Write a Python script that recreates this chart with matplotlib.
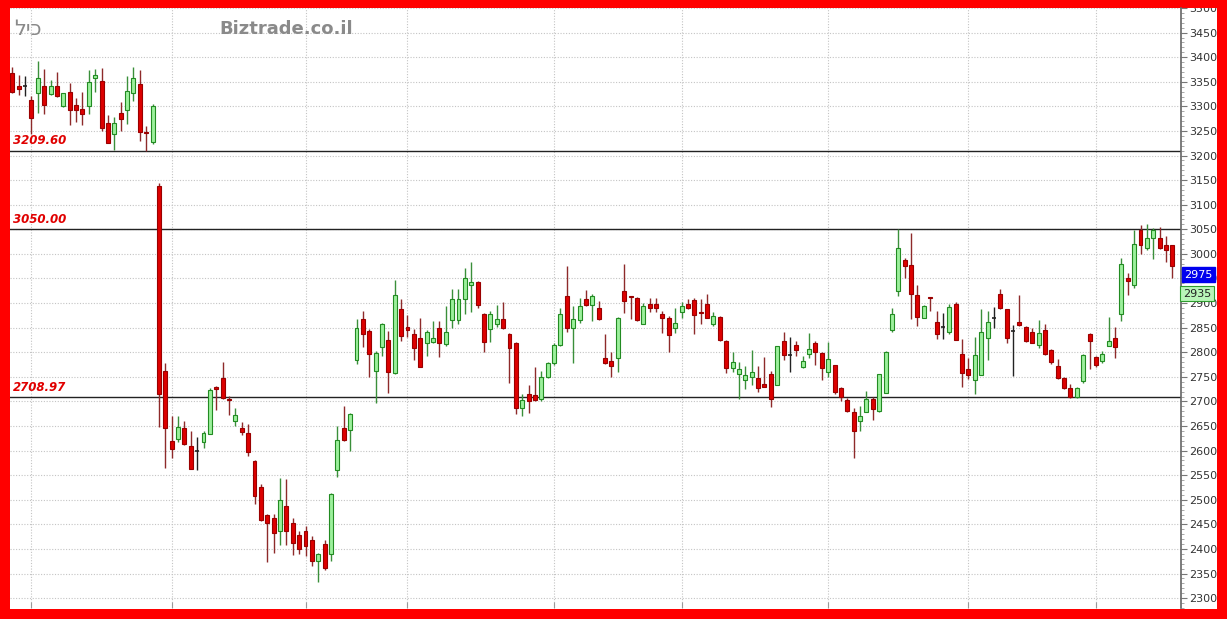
import numpy as np
import matplotlib
matplotlib.use('Agg')
import matplotlib.pyplot as plt
from matplotlib.patches import Rectangle
from matplotlib.ticker import MultipleLocator, NullFormatter

# ==========================================
# DATA
# ==========================================
opens = [3367, 3342, 3342, 3313, 3328, 3342, 3325, 3341, 3301, 3329,
         3303, 3295, 3301, 3358, 3351, 3266, 3243, 3287, 3293, 3328,
         3345, 3248, 3227, 3139, 2761, 2619, 2624, 2647, 2609, 2600,
         2617, 2633, 2729, 2748, 2704, 2660, 2647, 2636, 2579, 2527,
         2470, 2464, 2437, 2488, 2452, 2428, 2437, 2419, 2375, 2410,
         2389, 2560, 2647, 2642, 2784, 2867, 2843, 2761, 2811, 2824,
         2757, 2887, 2851, 2838, 2828, 2818, 2821, 2849, 2816, 2865,
         2865, 2909, 2937, 2943, 2877, 2847, 2858, 2867, 2838, 2818,
         2686, 2716, 2713, 2705, 2750, 2779, 2815, 2914, 2849, 2865,
         2909, 2897, 2889, 2789, 2782, 2788, 2925, 2914, 2911, 2858,
         2899, 2899, 2877, 2870, 2849, 2881, 2899, 2906, 2882, 2899,
         2857, 2872, 2823, 2769, 2755, 2743, 2750, 2748, 2736, 2755,
         2734, 2822, 2795, 2814, 2770, 2797, 2818, 2799, 2760, 2774,
         2728, 2702, 2678, 2661, 2679, 2705, 2680, 2717, 2845, 2925,
         2987, 2977, 2917, 2870, 2912, 2862, 2852, 2842, 2898, 2797,
         2766, 2743, 2754, 2828, 2870, 2918, 2887, 2843, 2862, 2852,
         2842, 2814, 2846, 2804, 2772, 2747, 2728, 2710, 2741, 2837,
         2791, 2783, 2813, 2830, 2878, 2952, 2937, 3048, 3013, 3033,
         3033, 3018, 3018]
highs = [3381, 3364, 3362, 3321, 3392, 3376, 3354, 3370, 3328, 3348,
         3318, 3330, 3373, 3376, 3377, 3282, 3279, 3308, 3362, 3381,
         3374, 3260, 3305, 3145, 2779, 2670, 2670, 2661, 2639, 2628,
         2639, 2727, 2732, 2780, 2711, 2686, 2659, 2655, 2581, 2533,
         2472, 2472, 2545, 2543, 2462, 2436, 2447, 2426, 2391, 2419,
         2514, 2651, 2690, 2677, 2867, 2884, 2847, 2803, 2860, 2843,
         2946, 2909, 2875, 2847, 2870, 2845, 2864, 2864, 2894, 2929,
         2928, 2971, 2984, 2944, 2879, 2884, 2897, 2903, 2840, 2820,
         2715, 2733, 2770, 2762, 2781, 2818, 2891, 2975, 2894, 2911,
         2926, 2919, 2904, 2837, 2801, 2871, 2980, 2915, 2913, 2901,
         2910, 2911, 2884, 2874, 2889, 2902, 2908, 2911, 2908, 2919,
         2881, 2874, 2824, 2801, 2781, 2772, 2805, 2773, 2791, 2761,
         2813, 2841, 2831, 2822, 2792, 2839, 2822, 2800, 2820, 2775,
         2730, 2707, 2687, 2690, 2721, 2709, 2756, 2803, 2890, 3050,
         2992, 3043, 2937, 2896, 2913, 2884, 2879, 2898, 2903, 2827,
         2789, 2831, 2887, 2884, 2892, 2929, 2888, 2856, 2917, 2853,
         2850, 2865, 2858, 2806, 2786, 2749, 2736, 2730, 2796, 2839,
         2793, 2803, 2871, 2852, 2992, 2961, 3048, 3059, 3060, 3052,
         3055, 3037, 3019]
lows = [3328, 3323, 3321, 3243, 3287, 3285, 3323, 3320, 3298, 3262,
        3269, 3262, 3284, 3330, 3250, 3225, 3212, 3250, 3264, 3310,
        3229, 3209.6, 3223, 2648, 2565, 2584, 2617, 2611, 2562, 2560,
        2605, 2633, 2683, 2704, 2673, 2650, 2632, 2590, 2492, 2456,
        2374, 2392, 2408, 2408, 2387, 2389, 2385, 2365, 2332, 2357,
        2375, 2546, 2619, 2599, 2776, 2811, 2749, 2696, 2793, 2718,
        2755, 2822, 2831, 2784, 2770, 2793, 2819, 2791, 2813, 2849,
        2857, 2877, 2881, 2891, 2801, 2820, 2851, 2848, 2738, 2675,
        2671, 2677, 2701, 2701, 2748, 2774, 2813, 2842, 2779, 2860,
        2895, 2864, 2865, 2776, 2750, 2759, 2879, 2868, 2864, 2857,
        2881, 2881, 2840, 2801, 2840, 2870, 2887, 2838, 2857, 2869,
        2853, 2823, 2757, 2759, 2705, 2726, 2734, 2719, 2729, 2689,
        2733, 2785, 2759, 2792, 2768, 2789, 2775, 2743, 2750, 2716,
        2701, 2679, 2585, 2640, 2678, 2663, 2679, 2717, 2841, 2915,
        2952, 2867, 2854, 2869, 2883, 2827, 2827, 2837, 2824, 2730,
        2745, 2716, 2753, 2784, 2850, 2887, 2818, 2752, 2854, 2820,
        2818, 2808, 2795, 2777, 2746, 2725, 2708, 2708, 2737, 2766,
        2771, 2778, 2812, 2789, 2864, 2917, 2931, 2999, 3008, 2990,
        3010, 2984, 2952]
closes = [3330, 3335, 3342, 3277, 3357, 3302, 3341, 3322, 3327, 3293,
          3293, 3285, 3350, 3364, 3257, 3225, 3266, 3274, 3331, 3358,
          3247, 3245, 3301, 2716, 2645, 2604, 2648, 2614, 2562, 2600,
          2636, 2724, 2726, 2707, 2702, 2673, 2637, 2598, 2507, 2458,
          2453, 2433, 2500, 2437, 2412, 2399, 2407, 2376, 2389, 2362,
          2512, 2622, 2621, 2675, 2849, 2837, 2796, 2799, 2858, 2759,
          2916, 2833, 2846, 2809, 2770, 2841, 2828, 2818, 2842, 2909,
          2909, 2952, 2943, 2896, 2820, 2877, 2867, 2849, 2809, 2686,
          2703, 2700, 2703, 2749, 2779, 2815, 2877, 2849, 2867, 2895,
          2897, 2914, 2867, 2779, 2772, 2869, 2904, 2912, 2865, 2895,
          2889, 2889, 2870, 2835, 2860, 2895, 2889, 2876, 2880, 2870,
          2874, 2824, 2769, 2781, 2765, 2753, 2760, 2728, 2730, 2704,
          2812, 2795, 2795, 2804, 2782, 2807, 2801, 2768, 2787, 2719,
          2709, 2680, 2640, 2670, 2705, 2685, 2755, 2800, 2877, 3011,
          2975, 2919, 2872, 2894, 2910, 2838, 2852, 2892, 2825, 2757,
          2754, 2795, 2842, 2862, 2870, 2889, 2830, 2843, 2856, 2823,
          2818, 2840, 2796, 2780, 2747, 2728, 2710, 2728, 2795, 2822,
          2774, 2796, 2823, 2811, 2979, 2945, 3021, 3018, 3033, 3048,
          3011, 3008, 2975]

levels = [3209.60, 3050.00, 2708.97]
month_starts = [3, 25, 46, 62, 85, 105, 128, 150, 170]
last_close = 2975
ref_price = 2935
symbol = 'כיל'
site = 'Biztrade.co.il'

# colours
RED_FILL, RED_EDGE, RED_WICK = '#dd0000', '#9a0000', '#8e2a2a'
GREEN_FILL, GREEN_EDGE, GREEN_WICK = '#9cf09c', '#228b22', '#3a8f3a'
BORDER = '#ff0000'

W, H, DPI = 1227, 619, 100


def draw_candles(ax):
    o, h, l, c = (np.array(a, dtype=float) for a in (opens, highs, lows, closes))
    x = np.arange(len(o))
    up, down, flat = c > o, c < o, c == o
    width = 0.62

    ax.vlines(x[up], l[up], h[up], color=GREEN_WICK, lw=1.0, zorder=3)
    ax.vlines(x[down], l[down], h[down], color=RED_WICK, lw=1.0, zorder=3)
    ax.vlines(x[flat], l[flat], h[flat], color='#222222', lw=1.0, zorder=3)

    hu = np.maximum(c[up] - o[up], 2.5)
    ax.bar(x[up], hu, bottom=o[up], width=width, color=GREEN_FILL,
           edgecolor=GREEN_EDGE, lw=0.8, zorder=4)
    hd = np.maximum(o[down] - c[down], 2.5)
    ax.bar(x[down], hd, bottom=c[down], width=width, color=RED_FILL,
           edgecolor=RED_EDGE, lw=0.8, zorder=4)
    ax.hlines(c[flat], x[flat] - width / 2, x[flat] + width / 2,
              color='#222222', lw=1.2, zorder=4)
    return len(o)


def main():
    fig = plt.figure(figsize=(W / DPI, H / DPI), dpi=DPI, facecolor=BORDER)
    white = Rectangle((10 / W, 1 - 609 / H), 1207 / W, 601 / H,
                      transform=fig.transFigure, facecolor='white',
                      edgecolor='none', zorder=-1)
    fig.patches.append(white)

    ax = fig.add_axes([10 / W, 1 - 608 / H, 1171 / W, 600 / H])
    ax.set_facecolor('white')

    n = draw_candles(ax)
    ax.set_xlim(-0.36, n + 0.35)
    ax.set_ylim(2280, 3500)

    # grid
    ax.yaxis.set_major_locator(MultipleLocator(50))
    ax.yaxis.set_minor_locator(MultipleLocator(10))
    ax.set_xticks(month_starts)
    ax.xaxis.set_major_formatter(NullFormatter())
    ax.grid(True, which='major', color='#c4c4c4', lw=0.8,
            linestyle=(0, (1, 1.5)), zorder=0)
    ax.set_axisbelow(True)

    ax.yaxis.tick_right()
    ax.tick_params(axis='y', which='major', length=4, color='#777777',
                   labelsize=8, labelcolor='#333333', pad=2)
    ax.tick_params(axis='y', which='minor', length=2, color='#999999')
    ax.tick_params(axis='x', which='major', length=4, direction='in',
                   color='#999999')
    for side in ('top', 'left', 'bottom'):
        ax.spines[side].set_visible(False)
    ax.spines['right'].set_color('#666666')
    ax.spines['right'].set_linewidth(1.2)

    # support / resistance lines
    for lv in levels:
        ax.axhline(lv, color='#222222', lw=1.0, zorder=2)
        ax.annotate(f'{lv:.2f}', xy=(0, lv), xycoords=('axes fraction', 'data'),
                    xytext=(2, 2.5), textcoords='offset points',
                    color='#e00000', fontsize=8.5, fontweight='bold',
                    fontstyle='italic', va='bottom', ha='left', zorder=6)

    # price tags on the right axis
    ax.annotate(f'{last_close}', xy=(1, last_close), xycoords=('axes fraction', 'data'),
                xytext=(2.5, -6), textcoords='offset points', va='center', ha='left',
                fontsize=8, color='white', zorder=10, annotation_clip=False,
                bbox=dict(boxstyle='square,pad=0.2', fc='#0000ee', ec='#0000ee'))
    ax.annotate(f'{ref_price}', xy=(1, ref_price), xycoords=('axes fraction', 'data'),
                xytext=(1.5, -5.5), textcoords='offset points', va='center', ha='left',
                fontsize=8, color='#222222', zorder=10, annotation_clip=False,
                bbox=dict(boxstyle='square,pad=0.25', fc='#b8f5b8', ec='#2e9b2e', lw=0.8))

    # headers (Hebrew string reversed so the glyphs sit in the same visual order)
    fig.text(14 / W, 1 - 29 / H, symbol[::-1], fontsize=15, color='#8a8a8a',
             va='center', ha='left', family=['DejaVu Sans'])
    fig.text(286 / W, 1 - 29 / H, site, fontsize=13, color='#8a8a8a',
             fontweight='bold', va='center', ha='center')

    fig.canvas.draw()
    for lbl in ax.get_yticklabels():
        lbl.set_clip_path(white)

    fig.savefig('out.png', dpi=DPI, facecolor=BORDER)


if __name__ == '__main__':
    main()
